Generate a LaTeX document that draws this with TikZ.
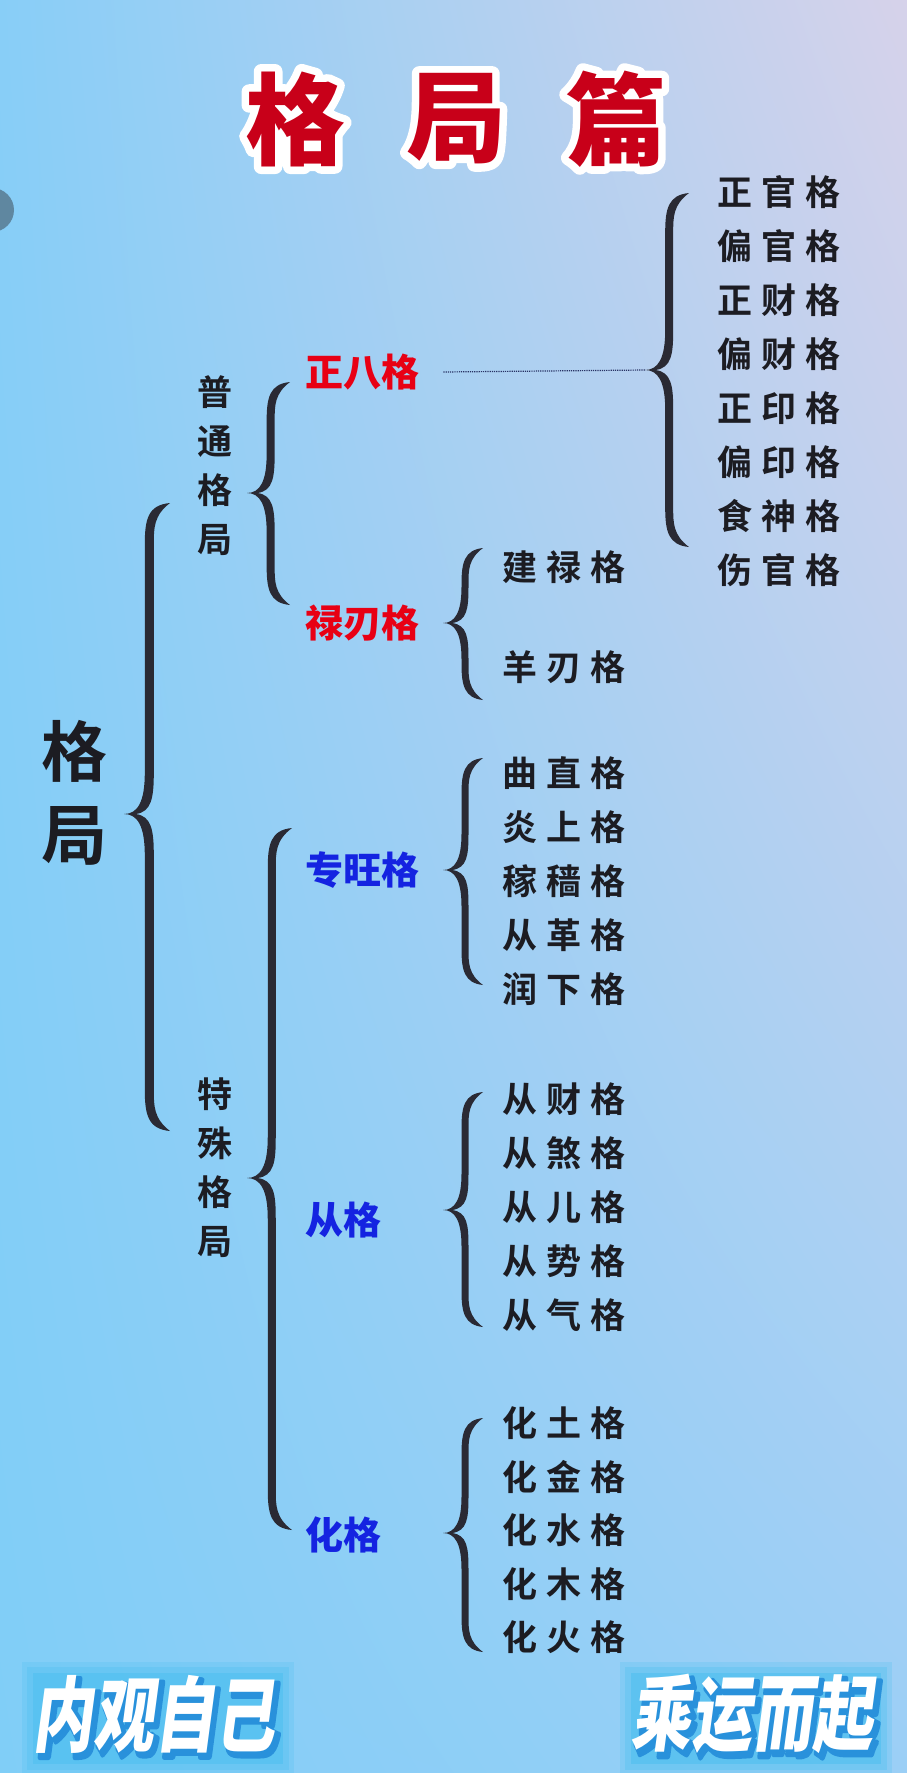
\documentclass[tikz,border=0pt]{standalone}
\usepackage{fontspec}
\usetikzlibrary{shadings,calc}
\newfontfamily\cjk{Noto Sans CJK SC}
\newfontfamily\cjkb{Noto Sans CJK SC Bold}
\newfontfamily\cjkk{Noto Sans CJK SC Black}
\definecolor{bgA}{RGB}{136,206,247}
\definecolor{bgB}{RGB}{214,210,234}
\definecolor{bgC}{RGB}{128,206,247}
\definecolor{bgD}{RGB}{155,207,246}
\definecolor{bracecol}{RGB}{42,42,52}
\definecolor{titlered}{RGB}{200,0,25}
\definecolor{lblred}{RGB}{232,0,20}
\definecolor{lblblue}{RGB}{20,35,225}
\definecolor{txt}{RGB}{28,28,34}
\definecolor{boxcol}{RGB}{80,192,240}
\definecolor{shadowblue}{RGB}{40,145,220}
\definecolor{dotcol}{RGB}{40,50,100}
\definecolor{uicircle}{RGB}{95,135,160}
\newcommand\Trio[3]{#1\hspace{9pt}#2\hspace{9pt}#3}
\newcommand\strokeon[2]{\special{pdf:literal direct 1 J 1 j #1 w #2 RG 2 Tr}}
\newcommand\strokeoff{\special{pdf:literal direct 0 Tr}}
\newcommand\TitleChar[1]{\rlap{\color{white}\strokeon{15}{1 1 1}#1\strokeoff}{\color{titlered}#1}}
\newcommand\FootText[1]{\rlap{\hspace{5pt}\raisebox{-4pt}{\color{shadowblue}\strokeon{6}{0.16 0.57 0.86}#1\strokeoff}}{\color{white}#1}}
\newcommand\brc[6]{%
 \pgfmathsetmacro\bxa{#1}%
 \pgfmathsetmacro\bxc{#1+#5}%
 \pgfmathsetmacro\bxl{#1+0.55*#5-#6/2}%
 \pgfmathsetmacro\bxr{#1+0.55*#5+#6/2}%
 \pgfmathsetmacro\br{0.9*#5}%
 \fill[bracecol] (\bxc,#2) .. controls (\bxl+3,#2+2) and (\bxl,#2+0.4*\br) .. (\bxl,#2+\br)
   -- (\bxl,#3-\br) .. controls (\bxl,#3-0.3*\br) and (\bxa+0.3*#5,#3) .. (\bxa,#3)
   .. controls (\bxa+0.3*#5,#3) and (\bxl,#3+0.3*\br) .. (\bxl,#3+\br)
   -- (\bxl,#4-\br) .. controls (\bxl,#4-0.4*\br) and (\bxl+3,#4-2) .. (\bxc,#4)
   .. controls (\bxr,#4-0.3*\br) and (\bxr,#4-0.6*\br) .. (\bxr,#4-\br)
   -- (\bxr,#3+\br) .. controls (\bxr,#3+0.4*\br) and (\bxa+0.6*#5,#3+2) .. (\bxa+#6*1.3,#3)
   .. controls (\bxa+0.6*#5,#3-2) and (\bxr,#3-0.4*\br) .. (\bxr,#3-\br)
   -- (\bxr,#2+\br) .. controls (\bxr,#2+0.6*\br) and (\bxr,#2+0.3*\br) .. (\bxc,#2) -- cycle;
}
\tikzset{
  item/.style={anchor=west,inner sep=0pt,text=txt,font=\cjkb\fontsize{35}{35}\selectfont},
  redlbl/.style={anchor=west,inner sep=0pt,text=lblred,font=\cjkk\fontsize{38}{38}\selectfont},
  bluelbl/.style={anchor=west,inner sep=0pt,text=lblblue,font=\cjkk\fontsize{38}{38}\selectfont},
  vlbl/.style={inner sep=0pt,text=txt,align=center,font=\cjkb\fontsize{35}{49}\selectfont},
  ttl/.style={inner sep=0pt,font=\cjkk\fontsize{100}{100}\selectfont},
  foot/.style={inner sep=0pt,font=\cjkk\fontsize{82}{82}\selectfont,xscale=0.74,xslant=0.18}
}
\begin{document}
\begin{tikzpicture}[x=1pt,y=-1pt]
\useasboundingbox (0,0) rectangle (907,1773);
\shade[upper left=bgA,upper right=bgB,lower left=bgC,lower right=bgD] (0,0) rectangle (907,1773);
\fill[uicircle] (-8,210) circle (22);

% title
\node[ttl] (ta) at (295,119) {\TitleChar{格}};
\node[ttl] (tb) at (456,119) {\TitleChar{局}};
\node[ttl] (tc) at (616,119) {\TitleChar{篇}};

% braces
\brc{124}{503}{814}{1131}{46}{9}
\brc{247}{382}{493}{605}{43}{8}
\brc{247}{828}{1178}{1530}{45}{8}
\brc{645}{193}{370}{547}{44}{8}
\brc{443}{548}{623}{700}{40}{7}
\brc{443}{758}{870}{985}{40}{7}
\brc{443}{1092}{1210}{1327}{40}{7}
\brc{443}{1418}{1533}{1652}{40}{7}

% big label
\node[inner sep=0pt,text=txt,align=center,font=\cjkb\fontsize{66}{83}\selectfont] (root) at (74,793) {格\\局};
\node[vlbl] (pt) at (215,466) {普\\通\\格\\局};
\node[vlbl] (ts) at (215,1168) {特\\殊\\格\\局};

\node[redlbl] (zb) at (305,372) {正八格};
\node[redlbl] (lr) at (305,623) {禄刃格};
\node[bluelbl] (zw) at (305,870) {专旺格};
\node[bluelbl] (cg) at (305,1220) {从格};
\node[bluelbl] (hg) at (305,1535) {化格};

\coordinate (zbtip) at (645,370);
\draw[densely dotted,line width=1.2pt,dotcol] ([xshift=24pt]zb.east) -- (zbtip);

% lists
\node[item] (a1) at (717,192) {\Trio{正}{官}{格}};
\node[item] (a2) at (717,246) {\Trio{偏}{官}{格}};
\node[item] (a3) at (717,300) {\Trio{正}{财}{格}};
\node[item] (a4) at (717,354) {\Trio{偏}{财}{格}};
\node[item] (a5) at (717,408) {\Trio{正}{印}{格}};
\node[item] (a6) at (717,462) {\Trio{偏}{印}{格}};
\node[item] (a7) at (717,516) {\Trio{食}{神}{格}};
\node[item] (a8) at (717,570) {\Trio{伤}{官}{格}};

\node[item] (b1) at (502,567) {\Trio{建}{禄}{格}};
\node[item] (b2) at (502,667) {\Trio{羊}{刃}{格}};

\node[item] (c1) at (502,773) {\Trio{曲}{直}{格}};
\node[item] (c2) at (502,827) {\Trio{炎}{上}{格}};
\node[item] (c3) at (502,881) {\Trio{稼}{穑}{格}};
\node[item] (c4) at (502,935) {\Trio{从}{革}{格}};
\node[item] (c5) at (502,989) {\Trio{润}{下}{格}};

\node[item] (d1) at (502,1099) {\Trio{从}{财}{格}};
\node[item] (d2) at (502,1153) {\Trio{从}{煞}{格}};
\node[item] (d3) at (502,1207) {\Trio{从}{儿}{格}};
\node[item] (d4) at (502,1261) {\Trio{从}{势}{格}};
\node[item] (d5) at (502,1315) {\Trio{从}{气}{格}};

\node[item] (e1) at (502,1423) {\Trio{化}{土}{格}};
\node[item] (e2) at (502,1477) {\Trio{化}{金}{格}};
\node[item] (e3) at (502,1530) {\Trio{化}{水}{格}};
\node[item] (e4) at (502,1584) {\Trio{化}{木}{格}};
\node[item] (e5) at (502,1637) {\Trio{化}{火}{格}};

% footer
\foreach \bx/\tx/\nm in {158/内观自己/fa,756/乘运而起/fb}{
  \fill[boxcol,opacity=0.25] (\bx-136,1662) rectangle (\bx+136,1773);
  \fill[boxcol,opacity=0.35] (\bx-131,1667) rectangle (\bx+131,1770);
  \fill[boxcol,opacity=0.6] (\bx-125,1673) rectangle (\bx+125,1764);
  \node[foot] (\nm) at (\bx,1716) {\FootText{\tx}};
}
\end{tikzpicture}
\end{document}
